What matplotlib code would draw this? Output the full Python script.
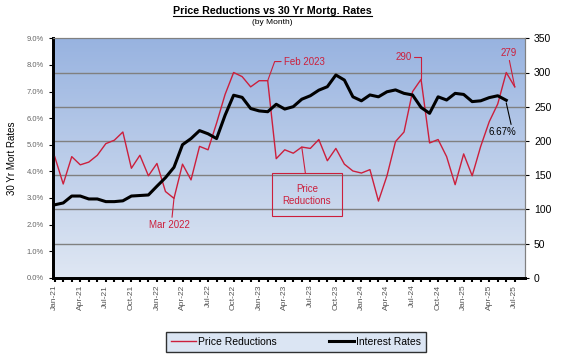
import matplotlib
matplotlib.use('Agg')
import matplotlib.pyplot as plt
import numpy as np
import pandas as pd
from matplotlib.lines import Line2D

plt.rcParams['font.family'] = ['Liberation Sans', 'DejaVu Sans']

# monthly data, Jan 2021 .. Jul 2025
months = pd.date_range('2021-01-01', periods=55, freq='MS')
price_reductions = [177, 137, 177, 165, 169, 179, 196, 201, 213, 160, 179, 149,
                    167, 126, 116, 166, 143, 192, 187, 226, 268, 300, 294, 279,
                    288, 288, 174, 187, 182, 191, 189, 202, 171, 189, 166, 156,
                    153, 158, 112, 149, 199, 213, 272, 290, 197, 202, 177, 136,
                    181, 149, 192, 228, 254, 300, 279]
rates = [2.74, 2.81, 3.07, 3.07, 2.96, 2.96, 2.86, 2.86, 2.89, 3.07, 3.09, 3.11,
         3.44, 3.76, 4.15, 5.00, 5.23, 5.53, 5.41, 5.23, 6.11, 6.86, 6.78, 6.36,
         6.27, 6.24, 6.52, 6.34, 6.43, 6.71, 6.84, 7.05, 7.18, 7.62, 7.43, 6.80,
         6.65, 6.87, 6.80, 6.99, 7.06, 6.93, 6.87, 6.40, 6.18, 6.80, 6.68, 6.93,
         6.89, 6.62, 6.65, 6.77, 6.84, 6.67]

RED = '#cc1f3c'
x_pr = np.arange(len(price_reductions))
x_rt = np.arange(len(rates))
tick_labels = [d.strftime('%b-%y') if i % 3 == 0 else '' for i, d in enumerate(months)]

fig = plt.figure(figsize=(5.64, 3.56), dpi=100)
ax2 = fig.add_axes([53 / 564, 1 - 277.7 / 356, (525 - 53) / 564, (277.7 - 38.3) / 356])
ax = ax2.twinx()
# left (rates) axis drawn on top, price reductions underneath
ax.yaxis.tick_left()
ax.yaxis.set_label_position('left')
ax2.yaxis.tick_right()
ax.set_zorder(ax2.get_zorder() + 1)
ax.patch.set_visible(False)

# gradient background
grad = np.linspace(0, 1, 256).reshape(-1, 1)
cmap = matplotlib.colors.LinearSegmentedColormap.from_list('bg', ['#98b3e0', '#dfe7f3'])
ax2.imshow(grad, extent=[0, 1, 0, 1], transform=ax2.transAxes, aspect='auto',
           cmap=cmap, zorder=0)

ax2.set_ylim(0, 350)
ax2.set_yticks(np.arange(0, 351, 50))
for v in range(50, 301, 50):
    ax2.axhline(v, color='#808080', lw=1, zorder=1)
ax2.plot(x_pr, price_reductions, color=RED, lw=1, zorder=3)

ax.set_ylim(0, 9)
ax.set_yticks(np.arange(0, 9.1, 1))
ax.set_yticklabels(['%.1f%%' % v for v in np.arange(0, 9.1, 1)])
ax.plot(x_rt, rates, color='black', lw=2.2, zorder=4)

ax2.set_xlim(-0.2, 55.2)
ax2.set_xticks(x_pr)
ax2.set_xticklabels(tick_labels, rotation=90, fontsize=6, color='#555555')
ax2.tick_params(axis='x', length=3, width=1.5, direction='out', pad=2)
ax2.tick_params(axis='y', labelsize=7.5, length=3, colors='black')
ax.tick_params(axis='y', labelsize=5.5, labelcolor='#666666', length=3)
ax.set_ylabel('30 Yr Mort Rates', fontsize=7, labelpad=7)

for a in (ax, ax2):
    a.spines['top'].set_color('#808080')
    a.spines['right'].set_color('#808080')
    a.spines['left'].set_linewidth(2)
    a.spines['bottom'].set_linewidth(2)

# annotations
arrow = dict(arrowstyle='-', color=RED, lw=0.8, shrinkA=0, shrinkB=0)
ax2.annotate('Mar 2022', xy=(14, price_reductions[14]), xytext=(13.5, 77),
             ha='center', va='center', fontsize=7, color=RED, zorder=5,
             arrowprops=dict(arrow, relpos=(0.55, 1.0)))
ax2.annotate('Feb 2023', xy=(25, price_reductions[25]), xytext=(26.9, 316),
             ha='left', va='center', fontsize=7, color=RED, zorder=5,
             arrowprops=dict(arrow, relpos=(0, 0.5),
                             connectionstyle='angle,angleA=0,angleB=70,rad=0'))
ax2.annotate('290', xy=(43, price_reductions[43]), xytext=(41.9, 322),
             ha='right', va='center', fontsize=7, color=RED, zorder=5,
             arrowprops=dict(arrow, relpos=(1, 0.5),
                             connectionstyle='angle,angleA=0,angleB=90,rad=0'))
ax2.annotate('279', xy=(54, price_reductions[54]), xytext=(53.3, 329),
             ha='center', va='center', fontsize=7, color=RED, zorder=5,
             arrowprops=dict(arrow, relpos=(0.5, 0)))
ax2.annotate('Price\nReductions', xy=(29, price_reductions[29]), xytext=(29.6, 121),
             ha='center', va='center', fontsize=7, color=RED, zorder=5,
             bbox=dict(boxstyle='square,pad=1.1', fc='none', ec=RED, lw=0.8),
             arrowprops=dict(arrow, relpos=(0.5, 1)))
ax.annotate('%.2f%%' % rates[-1], xy=(len(rates) - 1, rates[-1] - 0.1),
            xytext=(52.5, 5.47), ha='center', va='center', fontsize=7,
            color='black', zorder=5,
            arrowprops=dict(arrowstyle='-', color='black', lw=0.8,
                            shrinkA=0, shrinkB=0, relpos=(0.85, 1)))

# title
t = fig.text(0.483, 1 - 11 / 356, 'Price Reductions vs 30 Yr Mortg. Rates',
             ha='center', va='center', fontsize=7.7, fontweight='bold')
fig.text(0.483, 1 - 22 / 356, '(by Month)', ha='center', va='center', fontsize=6)
fig.canvas.draw()
bb = t.get_window_extent()
fig.add_artist(Line2D([bb.x0, bb.x1], [bb.y0 + 0.5, bb.y0 + 0.5], lw=0.8,
                      color='black', transform=None))

handles = [Line2D([], [], color=RED, lw=1), Line2D([], [], color='black', lw=2.2)]
leg = fig.legend(handles, ['Price Reductions', 'Interest Rates'], ncol=2,
                 loc='center', bbox_to_anchor=(296 / 564, 1 - 342 / 356),
                 fontsize=7.5, frameon=True, fancybox=False, handlelength=2.4,
                 handletextpad=0.2, columnspacing=5, borderpad=0.5,
                 borderaxespad=0)
leg._legend_box.align = 'center'
leg.get_frame().set_edgecolor('black')
leg.get_frame().set_facecolor('#d3dff0')
leg.get_frame().set_linewidth(1)

fig.savefig('out.png', dpi=100)
